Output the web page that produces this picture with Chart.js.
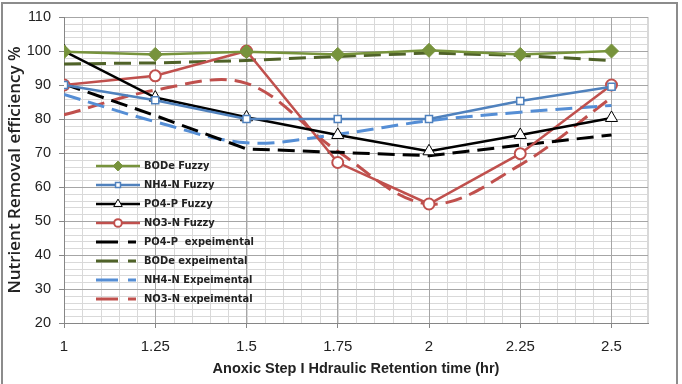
<!DOCTYPE html>
<html lang="en">
<head>
<meta charset="UTF-8">
<title>Nutrient Removal efficiency</title>
<style>
  html, body { margin: 0; padding: 0; background: #fff; }
  #wrap { width: 682px; height: 384px; }
</style>
</head>
<body>
<div id="wrap"><canvas id="chart" width="682" height="384"></canvas></div>
<script src="https://cdn.jsdelivr.net/npm/chart.js"></script>
<script>
  // retention time (hr)
  const hrt = [1, 1.25, 1.5, 1.75, 2, 2.25, 2.5];
  const xTicks = [1, 1.25, 1.5, 1.75, 2, 2.25, 2.5];
  const yTicks = [20, 30, 40, 50, 60, 70, 80, 90, 100, 110];

  const bodFuzzy = [99.8, 99, 99.8, 99, 100.2, 99, 100];
  const nh4Fuzzy = [90, 85.5, 80, 80, 80, 85.3, 89.5];
  const po4Fuzzy = [100, 86.3, 80.5, 75.3, 70.5, 75.3, 80.3];
  const no3Fuzzy = [90, 92.7, 100, 67.2, 55, 69.8, 90];
  const po4Exp = [90.3, 81, 71.2, 70.2, 69.2, 72.3, 75.3];
  const bodExp = [96.2, 96.5, 97.2, 98.4, 99.4, 98.7, 97.2];
  const nh4Exp = [87.2, 79.2, 73, 75.5, 79.5, 82, 84];
  const no3Exp = [81.2, 88.5, 90.5, 70.5, 55, 66.5, 86.3];

  const GREEN = '#77933c', GREEN_D = '#4f6228', BLUE = '#4f81bd', BLUE_L = '#558ed5', RED = '#c0504d';
  const DASH = [17, 8];

  function pts(ys) { return ys.map((y, i) => ({ x: hrt[i], y: y })); }

  const datasets = [
    { label: 'BODe Fuzzy', data: pts(bodFuzzy), borderColor: GREEN, backgroundColor: GREEN,
      pointStyle: 'rectRot', pointRadius: 7, pointBorderWidth: 1, borderWidth: 2.5, tension: 0 },
    { label: 'NH4-N Fuzzy', data: pts(nh4Fuzzy), borderColor: BLUE, backgroundColor: '#fff',
      pointStyle: 'rect', pointRadius: 5, pointBorderWidth: 1.5, borderWidth: 2.5, tension: 0 },
    { label: 'PO4-P Fuzzy', data: pts(po4Fuzzy), borderColor: '#000', backgroundColor: '#fff',
      pointStyle: 'triangle', pointRadius: 7, pointBorderWidth: 1, borderWidth: 2.5, tension: 0 },
    { label: 'NO3-N Fuzzy', data: pts(no3Fuzzy), borderColor: RED, backgroundColor: '#fff',
      pointStyle: 'circle', pointRadius: 5.5, pointBorderWidth: 2, borderWidth: 2.5, tension: 0 },
    { label: 'PO4-P  expeimental', data: pts(po4Exp), borderColor: '#000', borderDash: DASH,
      pointRadius: 0, borderWidth: 3, tension: 0 },
    { label: 'BODe expeimental', data: pts(bodExp), borderColor: GREEN_D, borderDash: DASH,
      pointRadius: 0, borderWidth: 3, tension: 0 },
    { label: 'NH4-N Expeimental', data: pts(nh4Exp), borderColor: BLUE_L, borderDash: DASH,
      pointRadius: 0, borderWidth: 3, tension: 0.35 },
    { label: 'NO3-N expeimental', data: pts(no3Exp), borderColor: RED, borderDash: DASH,
      pointRadius: 0, borderWidth: 3, tension: 0.35 }
  ];
  datasets.forEach(d => { d.fill = false; d.pointBackgroundColor = d.backgroundColor; d.pointBorderColor = d.borderColor; });

  // light minor grid + outer frame, drawn before the scales
  const backdrop = {
    id: 'backdrop',
    beforeDraw(chart) {
      const { ctx, chartArea: a, scales: { x, y } } = chart;
      ctx.save();
      ctx.strokeStyle = '#8c8c8c';
      ctx.lineWidth = 2;
      ctx.strokeRect(2, 3, 675, 390);
      ctx.strokeStyle = '#d9d9d9';
      ctx.lineWidth = 1;
      ctx.beginPath();
      for (let v = 1.05; v < 2.6; v += 0.05) {
        const px = Math.round(x.getPixelForValue(v)) + 0.5;
        ctx.moveTo(px, a.top); ctx.lineTo(px, a.bottom);
      }
      ctx.moveTo(Math.round(a.right) - 0.5, a.top); ctx.lineTo(Math.round(a.right) - 0.5, a.bottom);
      for (let v = 22; v < 110; v += 2) {
        const py = Math.round(y.getPixelForValue(v)) + 0.5;
        ctx.moveTo(a.left, py); ctx.lineTo(a.right, py);
      }
      ctx.stroke();
      ctx.restore();
    }
  };

  // legend drawn inside the plot area
  const innerLegend = {
    id: 'innerLegend',
    afterDatasetsDraw(chart) {
      const ctx = chart.ctx;
      const x0 = 96, x1 = 140, top = 166, step = 19;
      ctx.save();
      ctx.font = 'bold 11px "Liberation Sans Narrow", "DejaVu Sans Condensed", sans-serif';
      ctx.textBaseline = 'middle';
      chart.data.datasets.forEach((d, i) => {
        const yy = top + i * step;
        ctx.strokeStyle = d.borderColor;
        ctx.lineWidth = d.borderDash ? 3 : 2.5;
        ctx.setLineDash([]);
        ctx.beginPath();
        if (d.borderDash) {
          ctx.moveTo(x0, yy); ctx.lineTo(x0 + 22, yy);
          ctx.moveTo(x0 + 32, yy); ctx.lineTo(x0 + 40, yy);
        } else {
          ctx.moveTo(x0, yy); ctx.lineTo(x1, yy);
        }
        ctx.stroke();
        if (d.pointRadius > 0) {
          ctx.fillStyle = d.backgroundColor;
          ctx.strokeStyle = d.borderColor;
          ctx.lineWidth = d.pointBorderWidth;
          Chart.helpers.drawPoint(ctx, { pointStyle: d.pointStyle, radius: d.pointRadius * 0.7,
            borderWidth: d.pointBorderWidth, rotation: 0 }, (x0 + x1) / 2, yy);
        }
        ctx.fillStyle = '#222';
        ctx.fillText(d.label, x1 + 4, yy);
      });
      ctx.restore();
    }
  };

  new Chart(document.getElementById('chart'), {
    type: 'line',
    data: { datasets: datasets },
    plugins: [backdrop, innerLegend],
    options: {
      responsive: false,
      animation: false,
      layout: { padding: { top: 17, right: 34, left: 0, bottom: 0 } },
      plugins: { legend: { display: false }, tooltip: { enabled: false } },
      scales: {
        x: {
          type: 'linear', min: 1, max: 2.6,
          afterBuildTicks: s => { s.ticks = xTicks.map(v => ({ value: v })); },
          afterFit: s => { s.height = 61; },
          border: { color: '#868686', width: 1 },
          grid: { color: '#a6a6a6', tickLength: 5, tickColor: '#868686' },
          ticks: { color: '#222', padding: 10, font: { family: 'Liberation Sans', size: 15 },
            maxRotation: 0, callback: v => String(v) },
          title: { display: true, text: 'Anoxic Step I Hdraulic Retention time (hr)', color: '#222',
            font: { family: 'Liberation Sans', size: 14.5, weight: 'bold' }, padding: { top: 2, bottom: 6 } }
        },
        y: {
          min: 20, max: 110,
          afterBuildTicks: s => { s.ticks = yTicks.map(v => ({ value: v })); },
          afterFit: s => { s.width = 64; },
          border: { color: '#868686', width: 1 },
          grid: { color: '#a6a6a6', tickLength: 5, tickColor: '#868686' },
          ticks: { color: '#222', padding: 8, font: { family: 'Liberation Sans', size: 14.5 } },
          title: { display: true, text: 'Nutrient Removal efficiency %', color: '#222',
            font: { family: 'Open Sans', size: 17, weight: '600' }, padding: { top: 5, bottom: 0 } }
        }
      }
    }
  });
</script>
</body>
</html>
